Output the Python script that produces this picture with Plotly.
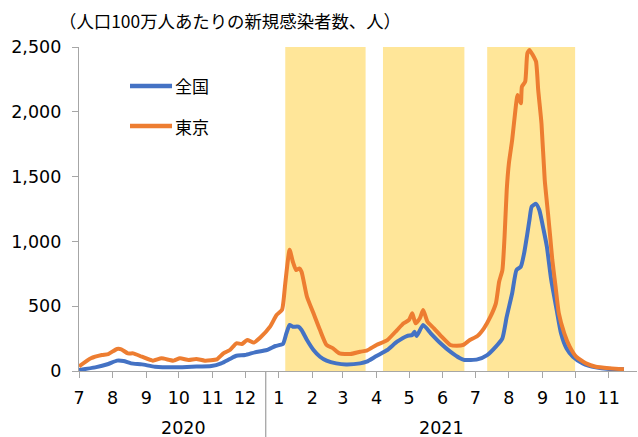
import plotly.graph_objects as go

# New cases per million population (7-day average), read by date
national_dates = [
    "2020-07-01", "2020-07-16", "2020-07-28", "2020-08-05", "2020-08-11", "2020-08-18",
    "2020-08-28", "2020-09-09", "2020-09-27", "2020-10-13", "2020-10-31", "2020-11-09",
    "2020-11-17", "2020-11-23", "2020-12-01", "2020-12-10", "2020-12-21", "2020-12-29",
    "2021-01-02", "2021-01-05", "2021-01-08", "2021-01-11", "2021-01-14", "2021-01-19",
    "2021-01-22", "2021-01-27", "2021-02-02", "2021-02-08", "2021-02-14", "2021-02-23",
    "2021-03-04", "2021-03-17", "2021-03-23", "2021-04-01", "2021-04-11", "2021-04-20",
    "2021-04-29", "2021-05-04", "2021-05-06", "2021-05-08", "2021-05-14", "2021-05-21",
    "2021-05-30", "2021-06-08", "2021-06-17", "2021-06-21", "2021-07-03", "2021-07-12",
    "2021-07-20", "2021-07-26", "2021-07-30", "2021-08-04", "2021-08-08", "2021-08-12",
    "2021-08-15", "2021-08-18", "2021-08-20", "2021-08-22", "2021-08-26", "2021-08-29",
    "2021-09-02", "2021-09-05", "2021-09-09", "2021-09-14", "2021-09-18", "2021-09-23",
    "2021-09-29", "2021-10-08", "2021-10-20", "2021-11-02", "2021-11-15",
]
national_values = [
    8, 28, 54, 80, 77, 59,
    51, 33, 28, 33, 38, 59,
    93, 118, 123, 144, 162, 193,
    201, 210, 290, 355, 342, 342,
    316, 239, 162, 110, 80, 59,
    51, 59, 72, 116, 162, 226,
    270, 278, 303, 270, 355, 291,
    214, 149, 98, 85, 90, 123,
    188, 252, 419, 600, 779, 805,
    908, 1060, 1170, 1268, 1290, 1242,
    1088, 959, 702, 471, 291, 175,
    110, 59, 28, 15, 13,
]

tokyo_dates = [
    "2020-07-01", "2020-07-12", "2020-07-22", "2020-07-28", "2020-08-05", "2020-08-09",
    "2020-08-15", "2020-08-20", "2020-08-28", "2020-09-07", "2020-09-15", "2020-09-26",
    "2020-10-02", "2020-10-10", "2020-10-17", "2020-10-25", "2020-11-05", "2020-11-11",
    "2020-11-17", "2020-11-23", "2020-11-28", "2020-12-03", "2020-12-09", "2020-12-15",
    "2020-12-24", "2020-12-30", "2021-01-04", "2021-01-07", "2021-01-11", "2021-01-14",
    "2021-01-17", "2021-01-20", "2021-01-22", "2021-01-27", "2021-02-02", "2021-02-08",
    "2021-02-14", "2021-02-20", "2021-02-26", "2021-03-08", "2021-03-17", "2021-03-23",
    "2021-04-01", "2021-04-11", "2021-04-20", "2021-04-26", "2021-05-01", "2021-05-04",
    "2021-05-07", "2021-05-11", "2021-05-14", "2021-05-18", "2021-05-24", "2021-05-31",
    "2021-06-08", "2021-06-14", "2021-06-20", "2021-06-26", "2021-07-03", "2021-07-09",
    "2021-07-15", "2021-07-20", "2021-07-23", "2021-07-26", "2021-07-28", "2021-07-30",
    "2021-08-01", "2021-08-04", "2021-08-07", "2021-08-09", "2021-08-12", "2021-08-13",
    "2021-08-16", "2021-08-18", "2021-08-20", "2021-08-23", "2021-08-26", "2021-08-28",
    "2021-08-31", "2021-09-03", "2021-09-06", "2021-09-08", "2021-09-10", "2021-09-13",
    "2021-09-16", "2021-09-21", "2021-09-26", "2021-10-02", "2021-10-11", "2021-10-20",
    "2021-11-02", "2021-11-15",
]
tokyo_values = [
    35, 98, 123, 131, 170, 167,
    136, 136, 110, 80, 98, 80,
    98, 85, 93, 80, 90, 136,
    162, 214, 208, 239, 219, 258,
    342, 432, 471, 676, 935, 843,
    779, 792, 766, 573, 445, 316,
    201, 175, 136, 131, 149, 157,
    201, 239, 316, 368, 394, 445,
    368, 407, 471, 380, 329, 265,
    201, 195, 201, 239, 270, 329,
    419, 522, 689, 779, 1036, 1397,
    1603, 1782, 2014, 2130, 2065, 2194,
    2232, 2451, 2477, 2438, 2387, 2168,
    1911, 1474, 1217, 1040, 856, 650,
    445, 291, 188, 110, 59, 33,
    21, 13,
]

# State-of-emergency periods (shaded)
emergency_starts = ["2021-01-07", "2021-04-07", "2021-07-12"]
emergency_ends = ["2021-03-22", "2021-06-21", "2021-10-01"]

month_ticks = [
    "2020-07-01", "2020-08-01", "2020-09-01", "2020-10-01", "2020-11-01", "2020-12-01",
    "2021-01-01", "2021-02-01", "2021-03-01", "2021-04-01", "2021-05-01", "2021-06-01",
    "2021-07-01", "2021-08-01", "2021-09-01", "2021-10-01", "2021-11-01",
]
month_labels = ["7", "8", "9", "10", "11", "12", "1", "2", "3", "4", "5", "6",
                "7", "8", "9", "10", "11"]
year_labels = ["2020", "2021"]
year_centers = ["2020-10-05", "2021-05-31"]
year_divider = "2020-12-20"

y_ticks = [0, 500, 1000, 1500, 2000, 2500]

series_names = ["全国", "東京"]

BLUE = "#4472C4"
ORANGE = "#ED7D31"
SHADE = "#FFE699"
AXIS = "#A6A6A6"
TICK_FONT = dict(family="DejaVu Sans, Verdana, sans-serif", size=17.5, color="#000000")
JP_FONT = "Noto Sans CJK JP"

fig = go.Figure()

fig.add_trace(go.Scatter(
    x=national_dates, y=national_values, name=series_names[0], mode="lines",
    line=dict(color=BLUE, width=4, shape="spline", smoothing=0.5),
))
fig.add_trace(go.Scatter(
    x=tokyo_dates, y=tokyo_values, name=series_names[1], mode="lines",
    line=dict(color=ORANGE, width=4, shape="spline", smoothing=0.5),
))

shapes = []
for s, e in zip(emergency_starts, emergency_ends):
    shapes.append(dict(type="rect", xref="x", yref="paper", x0=s, x1=e, y0=0, y1=1,
                       fillcolor=SHADE, line=dict(width=0), layer="below"))
shapes.append(dict(type="line", xref="x", yref="paper", x0=year_divider, x1=year_divider,
                   y0=0, y1=-0.21, line=dict(color=AXIS, width=1.3)))

# Legend drawn as line samples with labels inside the plot area
legend_rows = [0.88, 0.756]
for name, color, ly in zip(series_names, [BLUE, ORANGE], legend_rows):
    shapes.append(dict(type="line", xref="paper", yref="paper", x0=0.0914, x1=0.1667,
                       y0=ly, y1=ly, line=dict(color=color, width=4.5)))

annotations = [
    dict(text="（人口100万人あたりの新規感染者数、人）", xref="paper", yref="paper",
         x=-0.039, y=1.083, xanchor="left", yanchor="middle", showarrow=False,
         font=dict(family=JP_FONT, size=17.4, color="#000000")),
]
for name, ly in zip(series_names, legend_rows):
    annotations.append(dict(text=name, xref="paper", yref="paper", x=0.169, y=ly,
                            xanchor="left", yanchor="middle", showarrow=False,
                            font=dict(family=JP_FONT, size=17, color="#000000")))
for lbl, xc in zip(year_labels, year_centers):
    annotations.append(dict(text=lbl, xref="x", yref="paper", x=xc, y=-0.175,
                            xanchor="center", yanchor="middle", showarrow=False,
                            font=TICK_FONT))

fig.update_layout(
    width=638, height=437,
    margin=dict(l=79, r=1, t=47, b=66),
    paper_bgcolor="white", plot_bgcolor="white",
    showlegend=False,
    shapes=shapes,
    annotations=annotations,
    xaxis=dict(
        type="date", range=["2020-07-01", "2021-11-27"],
        tickmode="array", tickvals=month_ticks, ticktext=month_labels,
        ticks="outside", ticklen=6, tickcolor=AXIS, tickwidth=1.3,
        ticklabelstandoff=5,
        showline=True, linecolor=AXIS, linewidth=1.3,
        showgrid=False, zeroline=False, tickfont=TICK_FONT,
    ),
    yaxis=dict(
        range=[0, 2500], tickmode="array", tickvals=y_ticks, tickformat=",",
        ticks="outside", ticklen=6, tickcolor=AXIS, tickwidth=1.3,
        ticklabelstandoff=7,
        showline=True, linecolor=AXIS, linewidth=1.3,
        showgrid=False, zeroline=False, tickfont=TICK_FONT,
    ),
)

fig.write_html("out.html")
